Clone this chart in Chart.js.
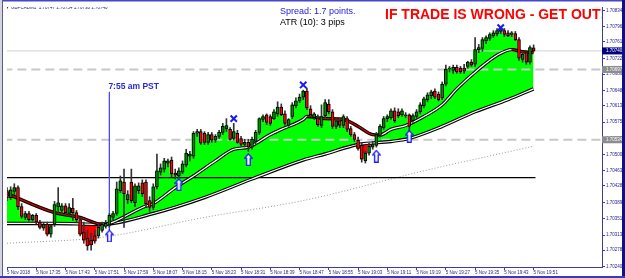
<!DOCTYPE html>
<html>
<head>
<meta charset="utf-8">
<script src="https://cdn.jsdelivr.net/npm/chart.js@4.4.0/dist/chart.umd.min.js"></script>
<style>
  html, body { margin: 0; padding: 0; background: #fff; }
  canvas { display: block; }
</style>
</head>
<body>
<canvas id="chart" width="625" height="278"></canvas>
<script>
// ===== GBPCAD M1 chart =====
const symbolTitle = 'GBPCADM1  1.70747 1.70754 1.70738 1.70740';
const spreadText = 'Spread: 1.7 points.';
const atrText = 'ATR (10): 3 pips';
const warningText = 'IF TRADE IS WRONG - GET OUT!';

const timeLabels = ['5 Nov 2018', '5 Nov 17:35', '5 Nov 17:43', '5 Nov 17:51', '5 Nov 17:59', '5 Nov 18:07',
    '5 Nov 18:15', '5 Nov 18:23', '5 Nov 18:31', '5 Nov 18:39', '5 Nov 18:47', '5 Nov 18:55', '5 Nov 19:03',
    '5 Nov 19:11', '5 Nov 19:19', '5 Nov 19:27', '5 Nov 19:35', '5 Nov 19:43', '5 Nov 19:51'];
const labelBars = [0, 8, 16, 24, 32, 40, 48, 56, 64, 72, 80, 88, 96, 104, 112, 120, 128, 136, 144];

const priceTicks = [1.70834, 1.70796, 1.70761, 1.70722, 1.70686, 1.70648, 1.70613, 1.70575, 1.70537,
    1.70500, 1.70463, 1.70428, 1.70389, 1.70351, 1.70313, 1.70278, 1.70240];

// one candle per minute, 17:27 .. 19:51
const opens = [
    1.70416, 1.70400, 1.70414, 1.70423, 1.70379, 1.70354, 1.70363, 1.70349, 1.70359, 1.70343,
    1.70329, 1.70338, 1.70315, 1.70338, 1.70379, 1.70370, 1.70381, 1.70363, 1.70375, 1.70365,
    1.70349, 1.70320, 1.70306, 1.70301, 1.70311, 1.70311, 1.70324, 1.70333, 1.70336, 1.70354,
    1.70363, 1.70416, 1.70436, 1.70395, 1.70436, 1.70388, 1.70416, 1.70434, 1.70436, 1.70393,
    1.70377, 1.70425, 1.70459, 1.70466, 1.70480, 1.70487, 1.70457, 1.70450, 1.70459, 1.70475,
    1.70496, 1.70496, 1.70549, 1.70553, 1.70549, 1.70528, 1.70546, 1.70533, 1.70542, 1.70551,
    1.70560, 1.70558, 1.70537, 1.70549, 1.70537, 1.70523, 1.70528, 1.70517, 1.70530, 1.70551,
    1.70581, 1.70592, 1.70588, 1.70583, 1.70594, 1.70610, 1.70594, 1.70567, 1.70588, 1.70613,
    1.70624, 1.70633, 1.70647, 1.70606, 1.70585, 1.70585, 1.70567, 1.70590, 1.70617, 1.70599,
    1.70565, 1.70578, 1.70567, 1.70583, 1.70560, 1.70546, 1.70533, 1.70521, 1.70485, 1.70503,
    1.70517, 1.70521, 1.70544, 1.70562, 1.70583, 1.70585, 1.70601, 1.70599, 1.70592, 1.70590,
    1.70592, 1.70578, 1.70588, 1.70599, 1.70613, 1.70627, 1.70636, 1.70647, 1.70640, 1.70631,
    1.70663, 1.70698, 1.70695, 1.70702, 1.70700, 1.70700, 1.70704, 1.70714, 1.70709, 1.70743,
    1.70746, 1.70764, 1.70769, 1.70775, 1.70780, 1.70785, 1.70787, 1.70782, 1.70778, 1.70780,
    1.70766, 1.70720, 1.70736, 1.70714, 1.70747
];
const highs = [
    1.70423, 1.70425, 1.70432, 1.70427, 1.70386, 1.70368, 1.70368, 1.70361, 1.70363, 1.70347,
    1.70343, 1.70343, 1.70336, 1.70391, 1.70423, 1.70386, 1.70386, 1.70386, 1.70398, 1.70370,
    1.70354, 1.70343, 1.70324, 1.70317, 1.70324, 1.70338, 1.70343, 1.70347, 1.70363, 1.70368,
    1.70436, 1.70450, 1.70466, 1.70416, 1.70466, 1.70432, 1.70434, 1.70441, 1.70441, 1.70402,
    1.70432, 1.70501, 1.70478, 1.70491, 1.70489, 1.70494, 1.70466, 1.70469, 1.70485, 1.70512,
    1.70507, 1.70553, 1.70558, 1.70558, 1.70553, 1.70551, 1.70551, 1.70546, 1.70556, 1.70572,
    1.70583, 1.70562, 1.70572, 1.70556, 1.70542, 1.70535, 1.70535, 1.70540, 1.70556, 1.70585,
    1.70592, 1.70594, 1.70592, 1.70604, 1.70622, 1.70617, 1.70601, 1.70583, 1.70620, 1.70631,
    1.70640, 1.70649, 1.70654, 1.70613, 1.70597, 1.70592, 1.70615, 1.70627, 1.70627, 1.70604,
    1.70583, 1.70585, 1.70592, 1.70588, 1.70565, 1.70551, 1.70540, 1.70526, 1.70507, 1.70526,
    1.70530, 1.70551, 1.70569, 1.70588, 1.70592, 1.70606, 1.70608, 1.70606, 1.70606, 1.70597,
    1.70594, 1.70594, 1.70604, 1.70620, 1.70633, 1.70643, 1.70649, 1.70652, 1.70645, 1.70668,
    1.70707, 1.70704, 1.70707, 1.70707, 1.70704, 1.70709, 1.70716, 1.70720, 1.70771, 1.70755,
    1.70771, 1.70775, 1.70782, 1.70787, 1.70792, 1.70794, 1.70792, 1.70787, 1.70785, 1.70785,
    1.70771, 1.70736, 1.70741, 1.70752, 1.70754
];
const lows = [
    1.70393, 1.70395, 1.70407, 1.70372, 1.70352, 1.70349, 1.70345, 1.70345, 1.70338, 1.70327,
    1.70324, 1.70311, 1.70308, 1.70333, 1.70363, 1.70361, 1.70359, 1.70356, 1.70347, 1.70343,
    1.70311, 1.70294, 1.70278, 1.70278, 1.70294, 1.70306, 1.70320, 1.70329, 1.70331, 1.70349,
    1.70359, 1.70411, 1.70331, 1.70386, 1.70388, 1.70379, 1.70409, 1.70402, 1.70377, 1.70368,
    1.70372, 1.70420, 1.70452, 1.70459, 1.70471, 1.70448, 1.70443, 1.70446, 1.70455, 1.70471,
    1.70485, 1.70491, 1.70542, 1.70523, 1.70523, 1.70523, 1.70528, 1.70528, 1.70537, 1.70546,
    1.70553, 1.70533, 1.70533, 1.70526, 1.70519, 1.70517, 1.70507, 1.70512, 1.70523, 1.70546,
    1.70576, 1.70569, 1.70567, 1.70581, 1.70588, 1.70590, 1.70567, 1.70565, 1.70583, 1.70608,
    1.70620, 1.70627, 1.70604, 1.70588, 1.70581, 1.70565, 1.70562, 1.70585, 1.70594, 1.70560,
    1.70560, 1.70562, 1.70562, 1.70553, 1.70542, 1.70530, 1.70510, 1.70482, 1.70480, 1.70498,
    1.70512, 1.70517, 1.70540, 1.70558, 1.70576, 1.70581, 1.70574, 1.70585, 1.70588, 1.70585,
    1.70553, 1.70574, 1.70583, 1.70594, 1.70608, 1.70622, 1.70629, 1.70629, 1.70624, 1.70627,
    1.70659, 1.70691, 1.70688, 1.70688, 1.70688, 1.70688, 1.70700, 1.70704, 1.70704, 1.70736,
    1.70739, 1.70757, 1.70764, 1.70771, 1.70775, 1.70780, 1.70773, 1.70773, 1.70773, 1.70764,
    1.70718, 1.70714, 1.70709, 1.70709, 1.70738
];
const closes = [
    1.70400, 1.70418, 1.70423, 1.70379, 1.70356, 1.70363, 1.70349, 1.70359, 1.70343, 1.70331,
    1.70338, 1.70315, 1.70333, 1.70384, 1.70388, 1.70381, 1.70365, 1.70377, 1.70365, 1.70349,
    1.70315, 1.70301, 1.70288, 1.70290, 1.70299, 1.70331, 1.70338, 1.70340, 1.70359, 1.70363,
    1.70420, 1.70439, 1.70409, 1.70407, 1.70393, 1.70427, 1.70427, 1.70409, 1.70386, 1.70377,
    1.70425, 1.70462, 1.70469, 1.70485, 1.70485, 1.70455, 1.70452, 1.70462, 1.70478, 1.70503,
    1.70501, 1.70549, 1.70553, 1.70526, 1.70528, 1.70546, 1.70533, 1.70542, 1.70551, 1.70565,
    1.70567, 1.70535, 1.70553, 1.70528, 1.70523, 1.70528, 1.70517, 1.70535, 1.70551, 1.70583,
    1.70588, 1.70574, 1.70572, 1.70599, 1.70610, 1.70592, 1.70572, 1.70581, 1.70615, 1.70624,
    1.70633, 1.70647, 1.70608, 1.70592, 1.70594, 1.70569, 1.70588, 1.70620, 1.70599, 1.70565,
    1.70578, 1.70567, 1.70588, 1.70558, 1.70546, 1.70535, 1.70514, 1.70489, 1.70503, 1.70519,
    1.70523, 1.70546, 1.70565, 1.70583, 1.70588, 1.70601, 1.70578, 1.70590, 1.70601, 1.70592,
    1.70565, 1.70590, 1.70599, 1.70615, 1.70629, 1.70638, 1.70645, 1.70633, 1.70627, 1.70663,
    1.70698, 1.70700, 1.70702, 1.70691, 1.70691, 1.70693, 1.70714, 1.70707, 1.70743, 1.70748,
    1.70766, 1.70771, 1.70778, 1.70782, 1.70787, 1.70789, 1.70778, 1.70775, 1.70782, 1.70766,
    1.70723, 1.70732, 1.70714, 1.70748, 1.70740
];

// moving averages, read at a few bars
const fastBars = [0, 13, 20, 26, 28, 37, 40, 46, 51, 57, 62, 66, 72, 75, 81, 82, 87, 92, 96, 100, 102, 105, 109, 114, 119, 123, 129, 134, 138, 141, 144];
const fastMA = [1.70409, 1.70365, 1.70354, 1.70338, 1.70340, 1.70377, 1.70386, 1.70423, 1.70450, 1.70485, 1.70512,
    1.70517, 1.70546, 1.70558, 1.70581, 1.70588, 1.70583, 1.70581, 1.70565, 1.70546, 1.70545, 1.70558, 1.70567,
    1.70588, 1.70615, 1.70652, 1.70698, 1.70730, 1.70743, 1.70738, 1.70736];
const slowBars = [0, 13, 26, 40, 54, 67, 81, 87, 96, 105, 110, 119, 128, 137, 144];
const slowMA = [1.70340, 1.70340, 1.70338, 1.70363, 1.70400, 1.70443, 1.70487, 1.70501, 1.70523, 1.70530,
    1.70537, 1.70565, 1.70599, 1.70627, 1.70652];
const longBars = [0, 26, 54, 81, 114, 144];
const longMA = [1.70294, 1.70308, 1.70354, 1.70393, 1.70462, 1.70519];

// objects on the chart
const bidPrice = 1.70740;
const dashLevels = [1.70697, 1.70534];
const blackLevel = 1.70446;
const sessionBar = 28;
const sessionTop = 1.70645;
const sessionBottom = 1.70324;
const sessionLabel = '7:55 am PST';
const sessionLabelPrice = 1.70656;
const arrowBars = [28, 47, 66, 101, 110];
const arrowPrices = [1.70311, 1.70430, 1.70488, 1.70496, 1.70542];
const crossBars = [62, 81, 135];
const crossPrices = [1.70583, 1.70661, 1.70794];

const FONT = '"Liberation Sans", Arial, sans-serif';
const AXIS_BLUE = '#3c3caa';

function pts(xs, ys) {
    return xs.map((x, i) => ({ x: x, y: ys[i] }));
}

function makeArrow() {
    const c = document.createElement('canvas');
    c.width = 9; c.height = 13;
    const g = c.getContext('2d');
    g.beginPath();
    g.moveTo(4.5, 0.8); g.lineTo(8.3, 5.2); g.lineTo(6.3, 5.2); g.lineTo(6.3, 12.3);
    g.lineTo(2.7, 12.3); g.lineTo(2.7, 5.2); g.lineTo(0.7, 5.2); g.closePath();
    g.fillStyle = '#fff'; g.fill();
    g.strokeStyle = '#1515ff'; g.lineWidth = 1.3; g.stroke();
    return c;
}

const bars = opens.map((o, i) => i);
const bodyData = bars.map(i => ({ x: i, y: [opens[i], closes[i]] }));
const wickData = bars.map(i => ({ x: i, y: [lows[i], highs[i]] }));
const closeData = bars.map(i => ({ x: i, y: closes[i] }));
const lineBase = { type: 'line', pointRadius: 0, fill: false };

const overlay = {
    id: 'overlay',
    beforeDraw(chart) {
        const ctx = chart.ctx;
        ctx.save();
        ctx.fillStyle = '#fff';
        ctx.fillRect(0, 0, chart.width, chart.height);
        ctx.restore();
    },
    afterDraw(chart) {
        const { ctx, chartArea: a } = chart;
        const x = chart.scales.x, y = chart.scales.y;
        ctx.save();
        ctx.beginPath();
        ctx.rect(a.left, a.top, a.right - a.left, a.bottom - a.top);
        ctx.clip();
        ctx.textBaseline = 'middle';
        ctx.textAlign = 'left';

        ctx.font = '4.5px ' + FONT;
        ctx.fillStyle = '#1e1e78';
        ctx.fillText('\u25BC', 5, 8);
        ctx.fillText(symbolTitle, 11, 8);

        ctx.font = '9px ' + FONT;
        ctx.fillStyle = '#2222dd';
        ctx.fillText(spreadText, 280, 12);
        ctx.fillStyle = '#000';
        ctx.fillText(atrText, 280, 22.5);

        ctx.font = 'bold 14px ' + FONT;
        ctx.fillStyle = '#ff0000';
        ctx.fillText(warningText, 385, 15.5);

        ctx.font = 'bold 8.5px ' + FONT;
        ctx.fillStyle = '#2828d0';
        ctx.fillText(sessionLabel, x.getPixelForValue(sessionBar) - 1, y.getPixelForValue(sessionLabelPrice));
        ctx.restore();

        // price boxes on the right axis
        ctx.save();
        ctx.font = '4.5px ' + FONT;
        ctx.textBaseline = 'middle';
        const box = (price, bg) => {
            const py = y.getPixelForValue(price);
            ctx.fillStyle = bg;
            ctx.fillRect(a.right, py - 3.5, 20, 7);
            ctx.fillStyle = '#fff';
            ctx.fillText(price.toFixed(5), a.right + 4, py);
        };
        dashLevels.forEach(p => box(p, '#8c8c8c'));
        box(bidPrice, '#000080');

        // window frame
        ctx.fillStyle = '#4646c8';
        ctx.fillRect(0, 0, chart.width, 1.5);
        ctx.fillStyle = '#d4d4dc';
        ctx.fillRect(0, 0, 2, chart.height);
        ctx.fillStyle = '#5a5a9a';
        ctx.fillRect(2, 0, 1, chart.height);
        ctx.fillStyle = '#10108a';
        ctx.fillRect(chart.width - 3, 0, 3, chart.height);
        ctx.fillStyle = '#3a3ab8';
        ctx.fillRect(0, chart.height - 2, chart.width, 2);
        ctx.restore();
    }
};

new Chart(document.getElementById('chart'), {
    type: 'bar',
    data: {
        datasets: [
            Object.assign({}, lineBase, {
                data: pts(arrowBars, arrowPrices), showLine: false,
                pointStyle: makeArrow(), pointRadius: 6
            }),
            Object.assign({}, lineBase, {
                data: pts(crossBars, crossPrices), showLine: false,
                pointStyle: 'crossRot', pointRadius: 4.5, pointBorderWidth: 2,
                pointBorderColor: '#1a1aee', pointBackgroundColor: '#1a1aee'
            }),
            {
                type: 'bar', data: bodyData, grouped: false, barThickness: 3,
                borderWidth: 1, borderColor: '#000', borderSkipped: false,
                backgroundColor: c => closes[c.dataIndex] >= opens[c.dataIndex] ? '#008c00' : '#ff0000'
            },
            { type: 'bar', data: wickData, grouped: false, barThickness: 1, backgroundColor: '#333' },
            Object.assign({}, lineBase, {
                data: pts(fastBars, fastMA), borderWidth: 1.3, cubicInterpolationMode: 'monotone',
                borderColor: '#fff',
                segment: { borderColor: c => c.p1.parsed.y < c.p0.parsed.y ? '#d00000' : '#ffffff' }
            }),
            Object.assign({}, lineBase, {
                data: pts(fastBars, fastMA), borderWidth: 3.4, borderColor: '#000', cubicInterpolationMode: 'monotone'
            }),
            Object.assign({}, lineBase, {
                data: pts(slowBars, slowMA), borderWidth: 1.2, borderColor: '#fff', cubicInterpolationMode: 'monotone'
            }),
            Object.assign({}, lineBase, {
                data: pts(slowBars, slowMA), borderWidth: 3.4, borderColor: '#000', cubicInterpolationMode: 'monotone'
            }),
            Object.assign({}, lineBase, {
                data: [{ x: sessionBar, y: sessionTop }, { x: sessionBar, y: sessionBottom }],
                borderWidth: 1, borderColor: '#4a4aff'
            }),
            Object.assign({}, lineBase, {
                data: [{ x: -1, y: blackLevel }, { x: 144.5, y: blackLevel }], borderWidth: 1.3, borderColor: '#000'
            }),
            Object.assign({}, lineBase, {
                data: [{ x: -1, y: dashLevels[0] }, { x: 170, y: dashLevels[0] }],
                borderWidth: 2, borderColor: '#c8c8c8', borderDash: [9, 5]
            }),
            Object.assign({}, lineBase, {
                data: [{ x: -1, y: dashLevels[1] }, { x: 170, y: dashLevels[1] }],
                borderWidth: 2, borderColor: '#c8c8c8', borderDash: [9, 5]
            }),
            Object.assign({}, lineBase, {
                data: [{ x: -1, y: bidPrice }, { x: 170, y: bidPrice }], borderWidth: 1, borderColor: '#d0d0d0'
            }),
            Object.assign({}, lineBase, {
                data: pts(longBars, longMA), borderWidth: 1, borderColor: '#9a9a9a', borderDash: [1, 2],
                cubicInterpolationMode: 'monotone'
            }),
            Object.assign({}, lineBase, {
                data: closeData, borderWidth: 0, borderColor: 'rgba(0,0,0,0)', stepped: 'middle',
                fill: { target: 7, above: '#00ff00', below: '#ff0000' }
            })
        ]
    },
    options: {
        responsive: false,
        animation: false,
        devicePixelRatio: 1,
        layout: { padding: { left: 3, top: 4, right: 3, bottom: 2 } },
        plugins: { legend: { display: false }, tooltip: { enabled: false } },
        scales: {
            x: {
                type: 'linear', min: 0, max: 162.7, offset: false,
                afterFit: s => { s.height = 9; },
                afterBuildTicks: s => { s.ticks = labelBars.map(v => ({ value: v })); },
                ticks: {
                    autoSkip: false, maxRotation: 0, align: 'start', padding: 0,
                    font: { size: 4.5, family: FONT }, color: '#1e1e8c',
                    callback: v => { const i = labelBars.indexOf(v); return i >= 0 ? timeLabels[i] : ''; }
                },
                grid: { drawOnChartArea: false, offset: false, tickLength: 3, color: AXIS_BLUE },
                border: { color: AXIS_BLUE }
            },
            y: {
                type: 'linear', position: 'right', min: 1.70239, max: 1.708418, beginAtZero: false,
                afterFit: s => { s.width = 20; },
                afterBuildTicks: s => { s.ticks = priceTicks.map(v => ({ value: v })); },
                ticks: {
                    autoSkip: false, padding: 1,
                    font: { size: 4.5, family: FONT }, color: '#1e1e8c',
                    callback: v => v.toFixed(5)
                },
                grid: { drawOnChartArea: false, tickLength: 3, color: AXIS_BLUE },
                border: { color: AXIS_BLUE }
            }
        }
    },
    plugins: [overlay]
});
</script>
</body>
</html>
